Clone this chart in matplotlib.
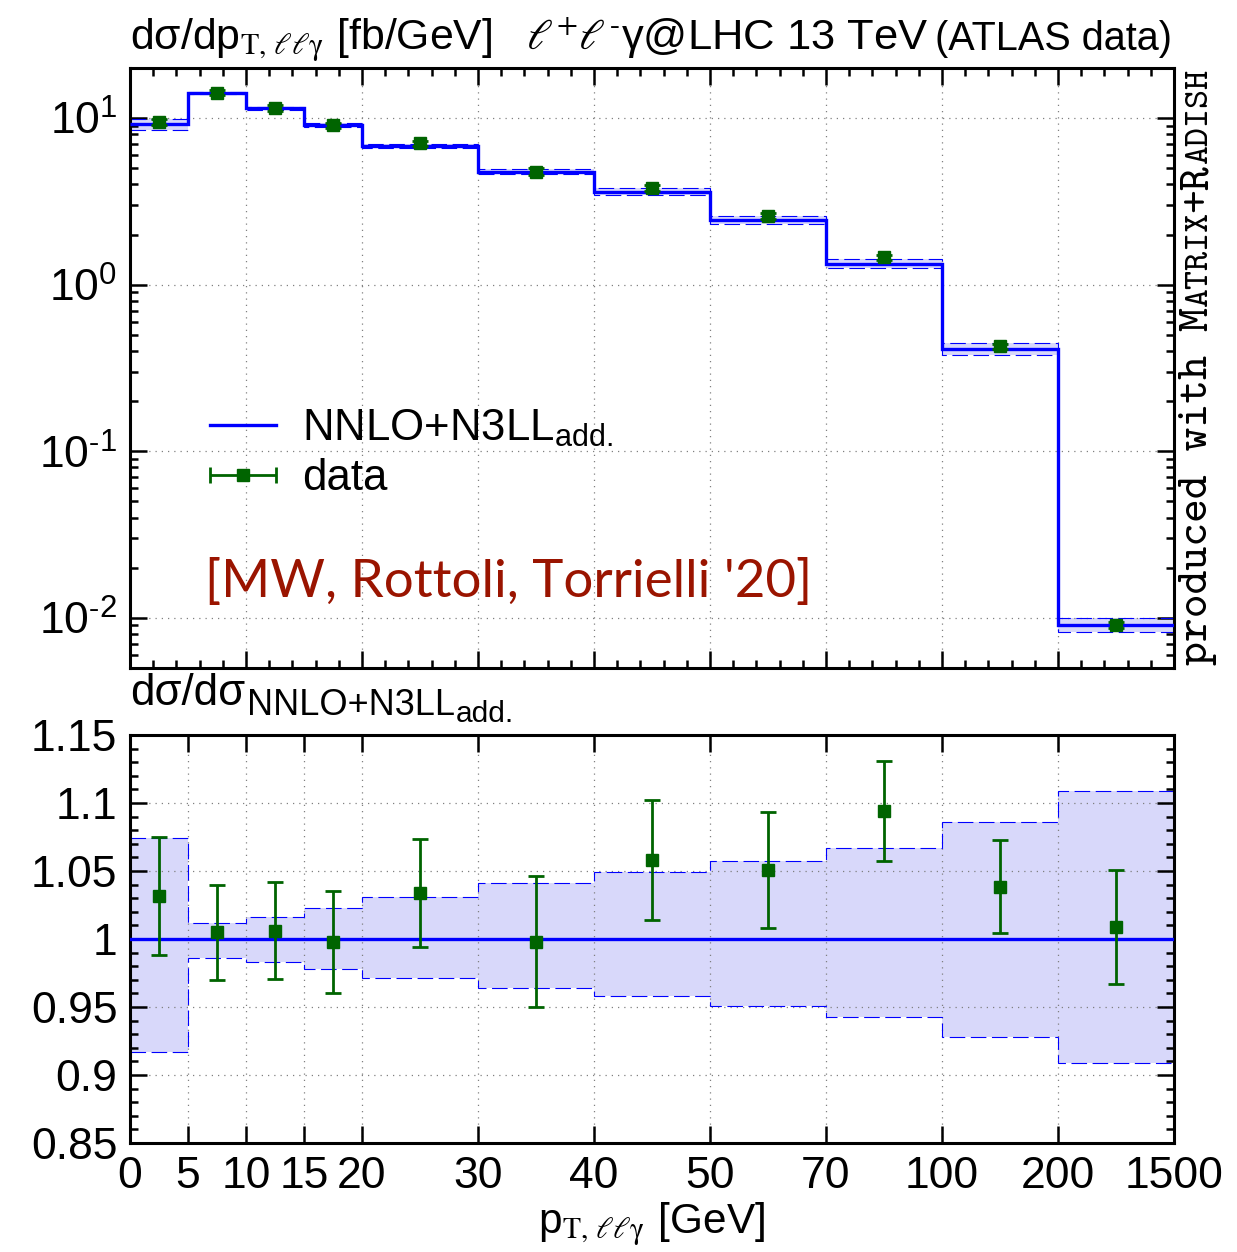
import numpy as np
import matplotlib
matplotlib.use("Agg")
import matplotlib.pyplot as plt
from matplotlib.lines import Line2D
from matplotlib.legend_handler import HandlerErrorbar
from matplotlib.container import ErrorbarContainer
from matplotlib.ticker import (FixedLocator, NullFormatter, FixedFormatter,
                               MultipleLocator, LogLocator, FuncFormatter)
from matplotlib.transforms import IdentityTransform

plt.rcParams["font.family"] = ["Liberation Sans", "DejaVu Sans"]
plt.rcParams["mathtext.fontset"] = "stix"
plt.rcParams["axes.unicode_minus"] = False

# ---------------------------------------------------------------- data
bin_edges = [0, 5, 10, 15, 20, 30, 40, 50, 70, 100, 200, 1500]
edge_slots = [0, 0.5, 1, 1.5, 2, 3, 4, 5, 6, 7, 8, 9]      # equal-width display slots
edge_labels = ["0", "5", "10", "15", "20", "30", "40", "50", "70", "100", "200", "1500"]

# NNLO+N3LL prediction [fb/GeV] and relative scale-uncertainty band
theory = [9.2, 14.1, 11.45, 9.09, 6.82, 4.78, 3.61, 2.45, 1.335, 0.41, 0.00903]
theory_up = [1.074, 1.012, 1.016, 1.023, 1.031, 1.041, 1.049, 1.057, 1.067, 1.086, 1.109]
theory_dn = [0.917, 0.986, 0.983, 0.978, 0.971, 0.964, 0.958, 0.951, 0.943, 0.928, 0.9085]

# ATLAS measurement [fb/GeV]
data = [9.49, 14.17, 11.52, 9.07, 7.05, 4.77, 3.82, 2.574, 1.461, 0.4258, 0.00911]
data_err = [0.40, 0.49, 0.41, 0.34, 0.27, 0.23, 0.16, 0.105, 0.049, 0.014, 0.00038]

# ---------------------------------------------------------------- style
BLUE = "#0000ff"
BAND = "#d8d8fa"
GREEN = "#006400"
CITE = "#9a1400"
GRID = dict(color="#808080", lw=0.9, ls=(0, (1, 4)))

W, H, DPI = 1237, 1252, 100
fig = plt.figure(figsize=(W / DPI, H / DPI), dpi=DPI)


def px_rect(left, top, right, bottom):
    return [left / W, 1 - bottom / H, (right - left) / W, (bottom - top) / H]


ax1 = fig.add_axes(px_rect(130, 68, 1174, 668))
ax2 = fig.add_axes(px_rect(130, 735, 1174, 1143))

edges = np.array(bin_edges, float)
slots = np.array(edge_slots, float)
centers = 0.5 * (edges[:-1] + edges[1:])
th = np.array(theory)
up = np.array(theory_up)
dn = np.array(theory_dn)
dat = np.array(data)
derr = np.array(data_err)


def fwd(x):
    return np.interp(x, edges, slots)


def inv(s):
    return np.interp(s, slots, edges)


for ax in (ax1, ax2):
    ax.set_xscale("function", functions=(fwd, inv))
    ax.set_xlim(0, 1500)
    ax.tick_params(which="both", direction="in", top=True, right=True,
                   width=1.8, labelsize=32, pad=9)
    ax.tick_params(which="major", length=12)
    ax.tick_params(which="minor", length=6)
    for sp in ax.spines.values():
        sp.set_linewidth(2.2)

err_kw = dict(fmt="s", color=GREEN, ms=8.5, capsize=6, capthick=2,
              elinewidth=2, zorder=5)

# ---------------------------------------------------------------- upper panel
ax1.stairs(th * up, edges, baseline=th * dn, fill=True, color=BAND, lw=0, zorder=1)
for b in (th * up, th * dn):
    ax1.stairs(b, edges, baseline=None, color=BLUE, lw=0.8, ls=(0, (14, 5)), zorder=2)
ax1.stairs(th, edges, baseline=None, color=BLUE, lw=2.4, zorder=3)
ax1.errorbar(centers, dat, yerr=derr, **err_kw)


def decade_label(v, _):
    e = int(round(np.log10(v)))
    sup = r"\text{-}%d" % -e if e < 0 else "%d" % e
    return r"$\mathdefault{10^{%s}}$" % sup


ax1.set_yscale("log")
ax1.set_ylim(0.005, 20)
ax1.yaxis.set_major_locator(LogLocator(base=10))
ax1.yaxis.set_major_formatter(FuncFormatter(decade_label))
ax1.yaxis.set_minor_locator(LogLocator(base=10, subs=np.arange(2, 10)))
ax1.yaxis.set_minor_formatter(NullFormatter())
ax1.xaxis.set_major_locator(FixedLocator(inv(np.arange(0, 10))))
ax1.xaxis.set_minor_locator(FixedLocator(inv(np.arange(0, 9.001, 0.2))))
ax1.xaxis.set_major_formatter(NullFormatter())
ax1.xaxis.set_minor_formatter(NullFormatter())
ax1.grid(True, which="major", **GRID)

# legend: blue line and a horizontal error-bar symbol
line_h = Line2D([], [], color=BLUE, lw=2.4)
pl, = ax1.plot([], [], "s", color=GREEN, ms=8.5)
cap_l, = ax1.plot([], [], "|", color=GREEN, ms=12, mew=2)
bar_c = ax1.hlines([], [], [], color=GREEN, lw=2)
data_h = ErrorbarContainer((pl, (cap_l, cap_l), (bar_c,)), has_xerr=True, has_yerr=False)
ax1.legend([line_h, data_h], [r"NNLO+N3LL$_{\mathregular{add.}}$", "data"],
           handler_map={ErrorbarContainer: HandlerErrorbar(xerr_size=0.75)},
           loc="upper left", bbox_to_anchor=(0.077, 0.433), frameon=False,
           fontsize=31.5, handlelength=1.5, handletextpad=0.6, labelspacing=0.2,
           borderpad=0, borderaxespad=0)

# ---------------------------------------------------------------- lower panel
ax2.stairs(up, edges, baseline=dn, fill=True, color=BAND, lw=0, zorder=1)
for b in (up, dn):
    ax2.stairs(b, edges, baseline=None, color=BLUE, lw=0.8, ls=(0, (14, 5)), zorder=2)
ax2.axhline(1.0, color=BLUE, lw=2.4, zorder=3)
ax2.errorbar(centers, dat / th, yerr=derr / th, **err_kw)

ax2.set_ylim(0.85, 1.15)
ax2.yaxis.set_major_locator(MultipleLocator(0.05))
ax2.yaxis.set_minor_locator(MultipleLocator(0.01))
ax2.yaxis.set_major_formatter(FuncFormatter(lambda v, _: f"{v:g}"))
ax2.xaxis.set_major_locator(FixedLocator(edges))
ax2.xaxis.set_major_formatter(FixedFormatter(edge_labels))
ax2.xaxis.set_minor_locator(FixedLocator([]))
ax2.grid(True, which="major", **GRID)

# ---------------------------------------------------------------- texts
renderer = fig.canvas.get_renderer()


def put(x, y_top, s, size, **kw):
    """Place text at pixel position (y measured from the top)."""
    return fig.text(x, H - y_top, s, fontsize=size, va="baseline",
                    transform=IdentityTransform(), **kw)


def width(t):
    return t.get_window_extent(renderer).width


def runs(x, y_top, pieces):
    """Draw consecutive text pieces: (text, size, baseline shift px, gap px)."""
    cx = x
    for s, size, dy, gap in pieces:
        t = put(cx, y_top + dy, s, size, ha="left")
        cx += width(t) + gap


put(130, 50, r"dσ/dp$_{\mathrm{T},\,\ell\ell\mathrm{\gamma}}$ [fb/GeV]", 30.8, ha="left")
t_atlas = put(1172, 50, "(ATLAS data)", 28.5, ha="right")
put(1172 - width(t_atlas) - 7, 50, r"$\ell^{+}\ell^{\text{-}}$γ@LHC 13 TeV", 31.3, ha="right")

runs(130, 705, [("dσ/dσ", 31.5, 0, 2), ("NNLO+N3LL", 26, 10, 1), ("add.", 21.5, 17, 0)])

fig.text(652 / W, 1 - 1234 / H, r"p$_{\mathrm{T},\,\ell\ell\mathrm{\gamma}}$ [GeV]",
         fontsize=30.5, ha="center", va="baseline")

# citation, scaled to its span
cite = put(205, 597, "[MW, Rottoli, Torrielli '20]", 40, ha="left",
           family=["Lato", "DejaVu Sans"], color=CITE)
cite.set_fontsize(40 * 607 / width(cite))

# vertical program tag on the right edge (typewriter face, small caps)
MONO = ["cmtt10", "Liberation Mono", "DejaVu Sans Mono"]


def mono_advance(size):
    a = put(0, -500, "M", size, family=MONO)
    b = put(0, -500, "M" * 11, size, family=MONO)
    adv = (width(b) - width(a)) / 10
    a.remove()
    b.remove()
    return adv


pieces = [("produced with ", 32), ("M", 32), ("ATRIX", 25.5),
          ("+R", 32), ("ADISH", 25.5)]
total = sum(len(s) * mono_advance(sz) for s, sz in pieces)
scale = (665 - 70) / total
cy = H - 665
for s, sz in pieces:
    sz = sz * scale
    fig.text(1207, cy, s, fontsize=sz, family=MONO,
             rotation=90, rotation_mode="anchor", ha="left", va="baseline",
             transform=IdentityTransform())
    cy += len(s) * mono_advance(sz)

fig.savefig("out.png", dpi=DPI)
